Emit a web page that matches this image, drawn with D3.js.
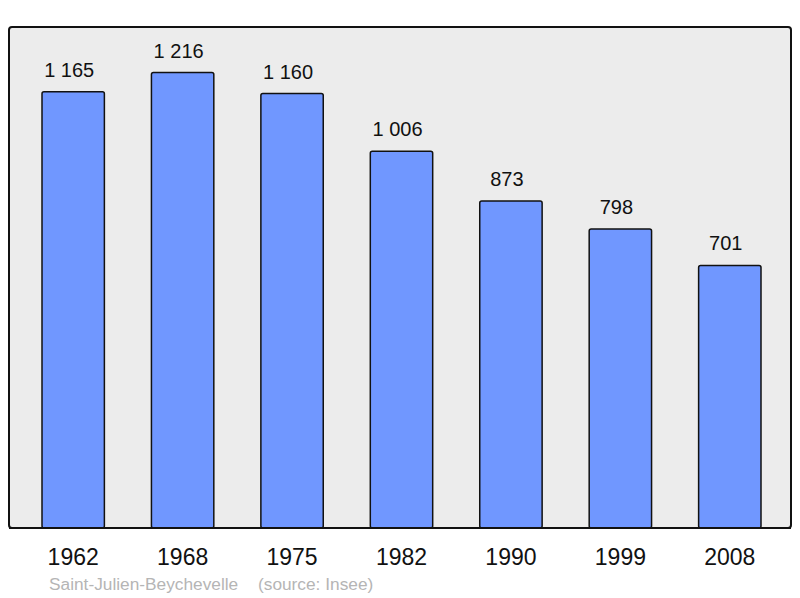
<!DOCTYPE html>
<html>
<head>
<meta charset="utf-8">
<script src="https://cdn.jsdelivr.net/npm/d3@7"></script>
<style>
  body { margin: 0; background: #fff; }
  svg { display: block; font-family: "Liberation Sans", Arial, sans-serif; }
</style>
</head>
<body>
<div id="chart"></div>
<script>
// data
const years = ["1962", "1968", "1975", "1982", "1990", "1999", "2008"];
const population = [1165, 1216, 1160, 1006, 873, 798, 701];
const labels = ["1 165", "1 216", "1 160", "1 006", "873", "798", "701"];
const commune = "Saint-Julien-Beychevelle";
const source = "(source: Insee)";

const width = 800, height = 598;
const panel = { left: 9, top: 27, right: 791, bottom: 528 };

const svg = d3.select("#chart").append("svg")
    .attr("width", width)
    .attr("height", height);

const x = d3.scaleBand()
    .domain(years)
    .range([42, 761])
    .paddingInner(0.43)
    .paddingOuter(0);

const y = d3.scaleLinear()
    .domain([0, d3.max(population) * 1.1])
    .range([panel.bottom, panel.top]);

// background panel
svg.append("rect")
    .attr("x", panel.left)
    .attr("y", panel.top)
    .attr("width", panel.right - panel.left)
    .attr("height", panel.bottom - panel.top)
    .attr("rx", 3)
    .attr("fill", "#ececec")
    .attr("stroke", "#111")
    .attr("stroke-width", 2);

const data = years.map((d, i) => ({ year: d, value: population[i], label: labels[i] }));

// bars
svg.append("g").selectAll("rect")
    .data(data)
    .join("rect")
    .attr("x", d => x(d.year))
    .attr("y", d => y(d.value))
    .attr("width", x.bandwidth())
    .attr("height", d => y(0) - y(d.value))
    .attr("rx", 2)
    .attr("fill", "#7097ff")
    .attr("stroke", "#111")
    .attr("stroke-width", 1.5);

// redraw panel bottom edge on top of the bars
svg.append("line")
    .attr("x1", panel.left)
    .attr("x2", panel.right)
    .attr("y1", panel.bottom)
    .attr("y2", panel.bottom)
    .attr("stroke", "#111")
    .attr("stroke-width", 2);

// value labels
svg.append("g").selectAll("text")
    .data(data)
    .join("text")
    .attr("x", d => x(d.year) + x.bandwidth() / 2 - 4)
    .attr("y", d => y(d.value) - 15)
    .attr("text-anchor", "middle")
    .attr("font-size", 20)
    .attr("fill", "#111")
    .text(d => d.label);

// x axis labels
const xAxis = d3.axisBottom(x).tickSize(0).tickPadding(0);
svg.append("g")
    .attr("transform", `translate(0,${panel.bottom})`)
    .call(xAxis)
    .call(g => g.select(".domain").remove())
    .call(g => g.selectAll("text")
        .attr("dy", null)
        .attr("y", 37)
        .attr("font-size", 23)
        .attr("font-family", "Liberation Sans, Arial, sans-serif")
        .attr("fill", "#111"));

// footer
svg.append("text")
    .attr("x", 49)
    .attr("y", 590)
    .attr("font-size", 17.3)
    .attr("fill", "#b5b5b5")
    .text(commune);

svg.append("text")
    .attr("x", 258)
    .attr("y", 590)
    .attr("font-size", 17.3)
    .attr("fill", "#b5b5b5")
    .text(source);
</script>
</body>
</html>
